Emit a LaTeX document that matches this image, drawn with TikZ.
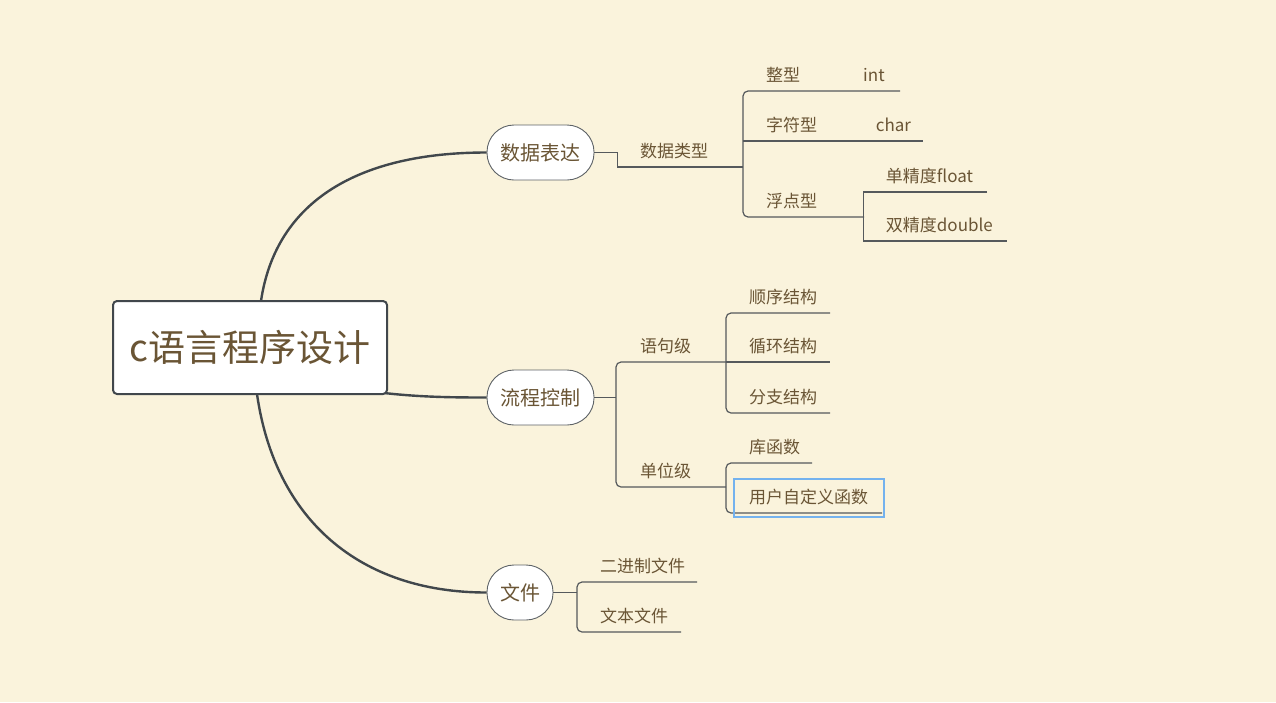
\documentclass[tikz,border=0pt]{standalone}
\usepackage{fontspec}
\setmainfont{Noto Sans CJK SC}
\usetikzlibrary{calc}
\definecolor{bg}{HTML}{FAF3DC}
\definecolor{ink}{HTML}{41474C}
\definecolor{txt}{HTML}{6A5535}
\definecolor{sublinec}{HTML}{55595C}
\definecolor{selblue}{HTML}{74B2EE}
\begin{document}
\begin{tikzpicture}[x=1pt,y=-1pt,
  mainbox/.style={draw=ink, line width=2pt, fill=white, rounded corners=4pt,
    minimum width=274pt, minimum height=93pt, font=\fontsize{37}{41}\selectfont,
    text=txt, inner sep=0},
  topic/.style={draw=ink!85, line width=0.9pt, fill=white, rounded corners=27pt,
    minimum height=55pt, font=\fontsize{20}{23}\selectfont, text=txt, inner sep=0},
  lbl/.style={anchor=base west, inner sep=0, font=\fontsize{17}{19}\selectfont, text=txt},
  trunk/.style={draw=ink, line width=2.4pt},
  sub/.style={draw=sublinec, line width=1.2pt},
  bracket/.style={sub, rounded corners=5pt},
]
\path[fill=bg] (0,0) rectangle (1276,702);

% main topics
\node[topic, minimum width=107pt] (sj) at (540.5,152.5) {数据表达};
\node[topic, minimum width=107pt] (lc) at (540.5,397.5) {流程控制};
\node[topic, minimum width=66pt] (wj) at (520,592.5) {文件};

% trunks
\draw[trunk] (261,301) .. controls (276,200) and (360,152.5) .. (sj.west);
\draw[trunk] (384,393) .. controls (420,397) and (450,397.5) .. (lc.west);
\draw[trunk] (257,394) .. controls (275,520) and (360,592.5) .. (wj.west);

\node[mainbox] (c) at (250,347.5) {c语言程序设计};

% ---------- 数据表达 ----------
\node[lbl] (sjlx) at (640,157) {数据类型};
\coordinate (b1) at (743,167);
\draw[sub] (sj.east) -- ++(23,0) |- (b1);
\node[lbl] (zx) at (766,81) {整型};
\node[lbl] (int) at (863,81) {int};
\node[lbl] (zfx) at (766,131) {字符型};
\node[lbl] (chr) at (875.7,131) {char};
\node[lbl] (fdx) at (766,207) {浮点型};
\coordinate (zxR) at (900,91);
\coordinate (chrR) at (923,141);
\coordinate (fdxR) at (864,217);
\draw[bracket] (zxR) -- (743,91) -- (743,217) -- (fdxR);
\draw[sub] (743,141) -- (chrR);
\node[lbl] (dj) at (885.7,182) {单精度float};
\node[lbl] (sjd) at (885.7,231) {双精度double};
\coordinate (djR) at (987,192);
\coordinate (sjdR) at (1007,241);
\draw[sub] (djR) -- (863.5,192) -- (863.5,241) -- (sjdR);

% ---------- 流程控制 ----------
\coordinate (b2) at (616,397.5);
\draw[sub] (lc.east) -- (b2);
\node[lbl] (yjj) at (640,352) {语句级};
\node[lbl] (dwj) at (640,477) {单位级};
\draw[bracket] (726,362) -- (616,362) -- (616,487) -- (726,487);
\node[lbl] (sx) at (749,303) {顺序结构};
\node[lbl] (xh) at (749,352) {循环结构};
\node[lbl] (fz) at (749,403) {分支结构};
\coordinate (sxR) at (830,313);
\coordinate (xhR) at (830,362);
\coordinate (fzR) at (830,413);
\draw[bracket] (sxR) -- (726,313) -- (726,413) -- (fzR);
\draw[sub] (726,362) -- (xhR);
\node[lbl] (khs) at (749,453) {库函数};
\node[lbl] (zdy) at (749,503) {用户自定义函数};
\coordinate (khsR) at (812,463);
\coordinate (zdyR) at (882,513);
\draw[bracket] (khsR) -- (726,463) -- (726,513) -- (zdyR);
\draw[selblue, line width=2pt] (734,479) rectangle (884,517);

% ---------- 文件 ----------
\coordinate (b3) at (577,592.5);
\draw[sub] (wj.east) -- (b3);
\node[lbl] (ejz) at (600,572) {二进制文件};
\node[lbl] (wb) at (600,622) {文本文件};
\coordinate (ejzR) at (697,582);
\coordinate (wbR) at (681,632);
\draw[bracket] (ejzR) -- (577,582) -- (577,632) -- (wbR);
\end{tikzpicture}
\end{document}
